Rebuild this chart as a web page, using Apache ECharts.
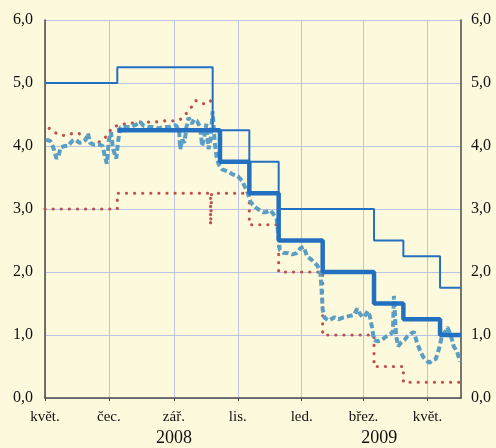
<!DOCTYPE html>
<html>
<head>
<meta charset="utf-8">
<script src="https://cdn.jsdelivr.net/npm/echarts@6/dist/echarts.min.js"></script>
<style>html,body{margin:0;padding:0;background:#fdf9dc;}#c{width:496px;height:448px;}</style>
</head>
<body>
<div id="c"></div>
<script>
// ---- data ----
const monthNames = ['led.','únor','břez.','dub.','květ.','červ.','čec.','srp.','zář.','říj.','lis.','pros.'];
const tickDates = ['2008-05-01','2008-07-01','2008-09-01','2008-11-01','2009-01-01','2009-03-01','2009-05-01'];
const yearLabelDates = ['2008-09-01','2009-03-16'];
const yTicks = [0,1,2,3,4,5,6];

// marginal lending facility (thin blue step)
const mlfDates = ['2008-05-01','2008-07-09','2008-10-08','2008-11-12','2008-12-10','2009-03-11','2009-04-08','2009-05-13','2009-06-02'];
const mlfRates = [5.00,5.25,4.25,3.75,3.00,2.50,2.25,1.75,1.75];

// main refinancing rate (thick blue step)
const mroDates = ['2008-07-09','2008-10-15','2008-11-12','2008-12-10','2009-01-21','2009-03-11','2009-04-08','2009-05-13','2009-06-02'];
const mroRates = [4.25,3.75,3.25,2.50,2.00,1.50,1.25,1.00,1.00];

// deposit facility (red dotted step)
const depDates = ['2008-05-01','2008-07-09','2008-10-06','2008-10-07','2008-11-12','2008-12-10','2009-01-21','2009-03-11','2009-04-08','2009-06-01'];
const depRates = [3.00,3.25,2.75,3.25,2.75,2.00,1.00,0.50,0.25,0.25];

// upper red dotted series
const upperDates = ['2008-05-05','2008-05-12','2008-05-17','2008-05-22','2008-05-27','2008-06-02','2008-06-05','2008-06-08','2008-06-11','2008-06-16','2008-06-20','2008-06-24','2008-06-27','2008-07-01','2008-07-05','2008-07-10','2008-07-17','2008-07-26','2008-08-05','2008-08-14','2008-08-24','2008-09-02','2008-09-07','2008-09-12','2008-09-17','2008-09-22','2008-09-26','2008-10-01','2008-10-05','2008-10-08'];
const upperValues = [4.28,4.20,4.17,4.17,4.20,4.20,4.18,4.12,4.06,4.03,4.05,4.08,4.12,4.22,4.30,4.33,4.35,4.37,4.38,4.38,4.40,4.40,4.42,4.50,4.60,4.72,4.70,4.66,4.70,4.74];

// overnight rate (dashed light blue)
const onDates = ['2008-05-02','2008-05-06','2008-05-09','2008-05-12','2008-05-14','2008-05-16','2008-05-20','2008-05-23','2008-05-27','2008-05-30','2008-06-03','2008-06-06','2008-06-09','2008-06-11','2008-06-13','2008-06-17','2008-06-21','2008-06-25','2008-06-27','2008-06-29','2008-07-01','2008-07-03','2008-07-05','2008-07-08','2008-07-10','2008-07-12','2008-07-17','2008-07-21','2008-07-26','2008-07-31','2008-08-03','2008-08-08','2008-08-12','2008-08-17','2008-08-22','2008-08-27','2008-08-31','2008-09-03','2008-09-06','2008-09-07','2008-09-09','2008-09-11','2008-09-13','2008-09-15','2008-09-18','2008-09-20','2008-09-23','2008-09-26','2008-09-28','2008-09-30','2008-10-02','2008-10-04','2008-10-06','2008-10-08','2008-10-10','2008-10-12','2008-10-14','2008-10-17','2008-10-22','2008-10-27','2008-11-01','2008-11-05','2008-11-07','2008-11-10','2008-11-13','2008-11-16','2008-11-20','2008-11-25','2008-11-28','2008-12-02','2008-12-05','2008-12-08','2008-12-10','2008-12-11','2008-12-15','2008-12-19','2008-12-23','2008-12-27','2008-12-31','2009-01-03','2009-01-06','2009-01-10','2009-01-13','2009-01-16','2009-01-18','2009-01-19','2009-01-20','2009-01-21','2009-01-23','2009-01-27','2009-02-01','2009-02-05','2009-02-10','2009-02-15','2009-02-20','2009-02-23','2009-02-25','2009-02-28','2009-03-03','2009-03-05','2009-03-07','2009-03-09','2009-03-11','2009-03-15','2009-03-19','2009-03-23','2009-03-27','2009-03-29','2009-03-30','2009-04-01','2009-04-03','2009-04-06','2009-04-09','2009-04-12','2009-04-15','2009-04-18','2009-04-21','2009-04-24','2009-04-27','2009-05-01','2009-05-03','2009-05-06','2009-05-09','2009-05-12','2009-05-15','2009-05-18','2009-05-20','2009-05-22','2009-05-24','2009-05-26','2009-05-29','2009-06-01'];
const onValues = [4.10,4.08,3.97,3.80,3.85,3.98,4.00,4.00,4.08,4.10,4.05,4.06,4.10,4.20,4.05,4.02,4.03,4.00,3.85,3.72,4.10,4.22,3.95,3.80,4.10,4.30,4.30,4.30,4.33,4.38,4.32,4.30,4.30,4.28,4.30,4.30,4.32,4.33,4.25,3.95,4.10,4.05,4.30,4.45,4.35,4.42,4.40,4.30,4.00,4.15,4.35,3.95,4.10,4.55,4.05,3.80,3.70,3.63,3.60,3.55,3.52,3.45,3.38,3.28,3.12,3.05,3.00,2.95,2.95,2.98,2.92,2.85,2.55,2.35,2.30,2.30,2.28,2.30,2.38,2.40,2.25,2.20,2.15,2.10,2.03,1.95,1.70,1.40,1.27,1.23,1.28,1.25,1.28,1.30,1.32,1.42,1.35,1.28,1.32,1.38,1.30,1.13,0.92,0.90,0.93,0.98,1.02,1.05,1.62,1.00,0.82,0.88,0.92,0.98,1.02,1.05,0.88,0.75,0.65,0.58,0.56,0.60,0.62,0.78,1.00,1.05,1.12,1.05,0.95,0.82,0.75,0.58];

// ---- chart ----
function ts(s){ const p = s.split('-'); return new Date(+p[0], +p[1]-1, +p[2]).getTime(); }
function pairs(d, v){ return d.map((x,i)=>[ts(x), v[i]]); }

const serif = 'Liberation Serif, Times New Roman, serif';
const gridColor = '#b9c4e6';
const axisColor = '#4a4a4a';
const xMin = ts('2008-05-01'), xMax = ts('2009-06-02');

const chart = echarts.init(document.getElementById('c'), null, {renderer:'canvas'});
const yAxisBase = {
  type:'value', min:0, max:6, interval:1,
  axisLine:{show:true, lineStyle:{color:axisColor, width:1.5}},
  axisTick:{show:false},
  splitLine:{show:true, lineStyle:{color:gridColor, width:1}},
  axisLabel:{fontFamily:serif, fontSize:16, color:'#111',
    formatter:v=>v.toFixed(1).replace('.',',')}
};
const dotStyle = {color:'#c0504d', width:3.2, type:[0.1,8], cap:'round'};
chart.setOption({
  animation:false,
  backgroundColor:'#fdf9dc',
  grid:{left:45, right:35, top:20, bottom:50},
  xAxis:[{
    type:'value', min:xMin, max:xMax, scale:true,
    axisLine:{show:true, lineStyle:{color:axisColor, width:1.5}},
    axisTick:{show:true, length:3, customValues:tickDates.map(ts), lineStyle:{color:axisColor}},
    splitLine:{show:true, lineStyle:{color:gridColor, width:1}},
    axisLabel:{customValues:tickDates.map(ts), fontFamily:serif, fontSize:15, color:'#111', margin:12,
      formatter:v=>monthNames[new Date(v).getMonth()]}
  },{
    type:'value', min:xMin, max:xMax, scale:true, position:'bottom',
    axisLine:{show:false}, axisTick:{show:false}, splitLine:{show:false},
    axisLabel:{customValues:yearLabelDates.map(ts), fontFamily:serif, fontSize:18, color:'#111', margin:31,
      formatter:v=>String(new Date(v).getFullYear())}
  }],
  yAxis:[
    Object.assign({}, yAxisBase, {position:'left', axisLabel:Object.assign({}, yAxisBase.axisLabel, {margin:12})}),
    Object.assign({}, yAxisBase, {position:'right', splitLine:{show:false}, axisLabel:Object.assign({}, yAxisBase.axisLabel, {margin:10})})
  ],
  series:[
    {type:'line', data:pairs(upperDates, upperValues), symbol:'none', z:2, lineStyle:dotStyle},
    {type:'line', step:'end', data:pairs(depDates, depRates), symbol:'none', z:2, lineStyle:dotStyle},
    {type:'line', data:pairs(onDates, onValues), symbol:'none', z:3,
      lineStyle:{color:'#5b9ec4', width:4, type:[6,3]}},
    {type:'line', step:'end', data:pairs(mlfDates, mlfRates), symbol:'none', z:4,
      lineStyle:{color:'#2470c0', width:2}},
    {type:'line', step:'end', data:pairs(mroDates, mroRates), symbol:'none', z:5,
      lineStyle:{color:'#2470c0', width:4.5}}
  ]
});
</script>
</body>
</html>
